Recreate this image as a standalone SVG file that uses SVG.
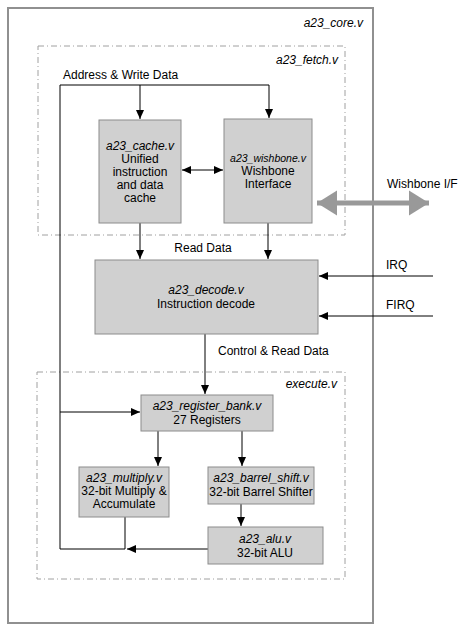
<svg xmlns="http://www.w3.org/2000/svg" width="463" height="631" viewBox="0 0 463 631">
<style>
text{font-family:"Liberation Sans",Arial,sans-serif;font-size:12px;fill:#000}
.i{font-style:italic}
.m{text-anchor:middle}
.e{text-anchor:end}
.box{fill:#d0d0d0;stroke:#8c8c8c;stroke-width:1}
.dd{fill:none;stroke:#a0a0a0;stroke-width:1;stroke-dasharray:6 3 1 3}
.ln{fill:none;stroke:#000;stroke-width:1}
</style>
<defs>
<marker id="ah" markerWidth="10" markerHeight="10" refX="9" refY="5" orient="auto" markerUnits="userSpaceOnUse"><path d="M0,1 L9,5 L0,9 Z" fill="#000"/></marker>
<marker id="as" markerWidth="10" markerHeight="10" refX="1" refY="5" orient="auto" markerUnits="userSpaceOnUse"><path d="M10,1 L1,5 L10,9 Z" fill="#000"/></marker>
<marker id="gh" markerWidth="6" markerHeight="6" refX="4" refY="3" orient="auto"><path d="M0,0.5 L4,3 L0,5.5 Z" fill="#999"/></marker>
<marker id="gs" markerWidth="6" markerHeight="6" refX="0" refY="3" orient="auto"><path d="M4,0.5 L0,3 L4,5.5 Z" fill="#999"/></marker>
</defs>
<g id="core"><rect x="8" y="8" width="365" height="615" fill="none" stroke="#909090" stroke-width="2"/><text class="i e" x="363" y="27">a23_core.v</text></g>
<g id="fetch"><rect x="38" y="46" width="307" height="189" class="dd"/><text class="i e" x="338" y="64">a23_fetch.v</text></g>
<g id="execute"><rect x="37" y="372" width="308" height="207" class="dd"/><text class="i e" x="337" y="388">execute.v</text></g>
<g id="connectors">
<polyline class="ln" points="60,549 60,85 269,85"/>
<line class="ln" x1="140" y1="85" x2="140" y2="119" marker-end="url(#ah)"/>
<line class="ln" x1="269" y1="85" x2="269" y2="118" marker-end="url(#ah)"/>
<line class="ln" x1="182" y1="170" x2="223" y2="170" marker-start="url(#as)" marker-end="url(#ah)"/>
<line x1="317" y1="203" x2="429" y2="203" stroke="#999" stroke-width="5" marker-start="url(#gs)" marker-end="url(#gh)"/>
<line class="ln" x1="140" y1="223" x2="140" y2="259" marker-end="url(#ah)"/>
<line class="ln" x1="268" y1="223" x2="268" y2="259" marker-end="url(#ah)"/>
<line class="ln" x1="433" y1="276" x2="319" y2="276" marker-end="url(#ah)"/>
<line class="ln" x1="433" y1="316" x2="319" y2="316" marker-end="url(#ah)"/>
<line class="ln" x1="205" y1="334" x2="205" y2="394" marker-end="url(#ah)"/>
<line class="ln" x1="60" y1="412" x2="140" y2="412" marker-end="url(#ah)"/>
<line class="ln" x1="158" y1="431" x2="158" y2="466" marker-end="url(#ah)"/>
<line class="ln" x1="242" y1="431" x2="242" y2="466" marker-end="url(#ah)"/>
<line class="ln" x1="241" y1="504" x2="241" y2="526" marker-end="url(#ah)"/>
<polyline class="ln" points="125,517 125,549 60,549"/>
<line class="ln" x1="208" y1="549" x2="127" y2="549" marker-end="url(#ah)"/>
<text x="63" y="79">Address &amp; Write Data</text>
<text class="m" x="203" y="252">Read Data</text>
<text x="218" y="355">Control &amp; Read Data</text>
<text x="387" y="188">Wishbone I/F</text>
<text x="386" y="269">IRQ</text>
<text x="386" y="309">FIRQ</text>
</g>
<g id="cache"><rect class="box" x="99" y="120" width="82" height="103"/>
<text class="i m" x="140" y="150">a23_cache.v</text>
<text class="m" x="140" y="163">Unified</text><text class="m" x="140" y="176">instruction</text><text class="m" x="140" y="189">and data</text><text class="m" x="140" y="202">cache</text></g>
<g id="wishbone"><rect class="box" x="224" y="119" width="88" height="104"/>
<text class="i m" x="268" y="162" style="font-size:10.5px">a23_wishbone.v</text>
<text class="m" x="268" y="175">Wishbone</text><text class="m" x="268" y="188">Interface</text></g>
<g id="decode"><rect class="box" x="95" y="260" width="223" height="74"/>
<text class="i m" x="206" y="294">a23_decode.v</text><text class="m" x="206" y="308">Instruction decode</text></g>
<g id="regbank"><rect class="box" x="141" y="395" width="132" height="36"/>
<text class="i m" x="207" y="410">a23_register_bank.v</text><text class="m" x="207" y="424">27 Registers</text></g>
<g id="multiply"><rect class="box" x="79" y="467" width="90" height="50"/>
<text class="i m" x="124" y="482">a23_multiply.v</text><text class="m" x="124" y="495">32-bit Multiply &amp;</text><text class="m" x="124" y="508">Accumulate</text></g>
<g id="barrel"><rect class="box" x="208" y="467" width="106" height="37"/>
<text class="i m" x="261" y="482">a23_barrel_shift.v</text><text class="m" x="261" y="496">32-bit Barrel Shifter</text></g>
<g id="alu"><rect class="box" x="208" y="527" width="115" height="37"/>
<text class="i m" x="265" y="543">a23_alu.v</text><text class="m" x="265" y="557">32-bit ALU</text></g>
</svg>
